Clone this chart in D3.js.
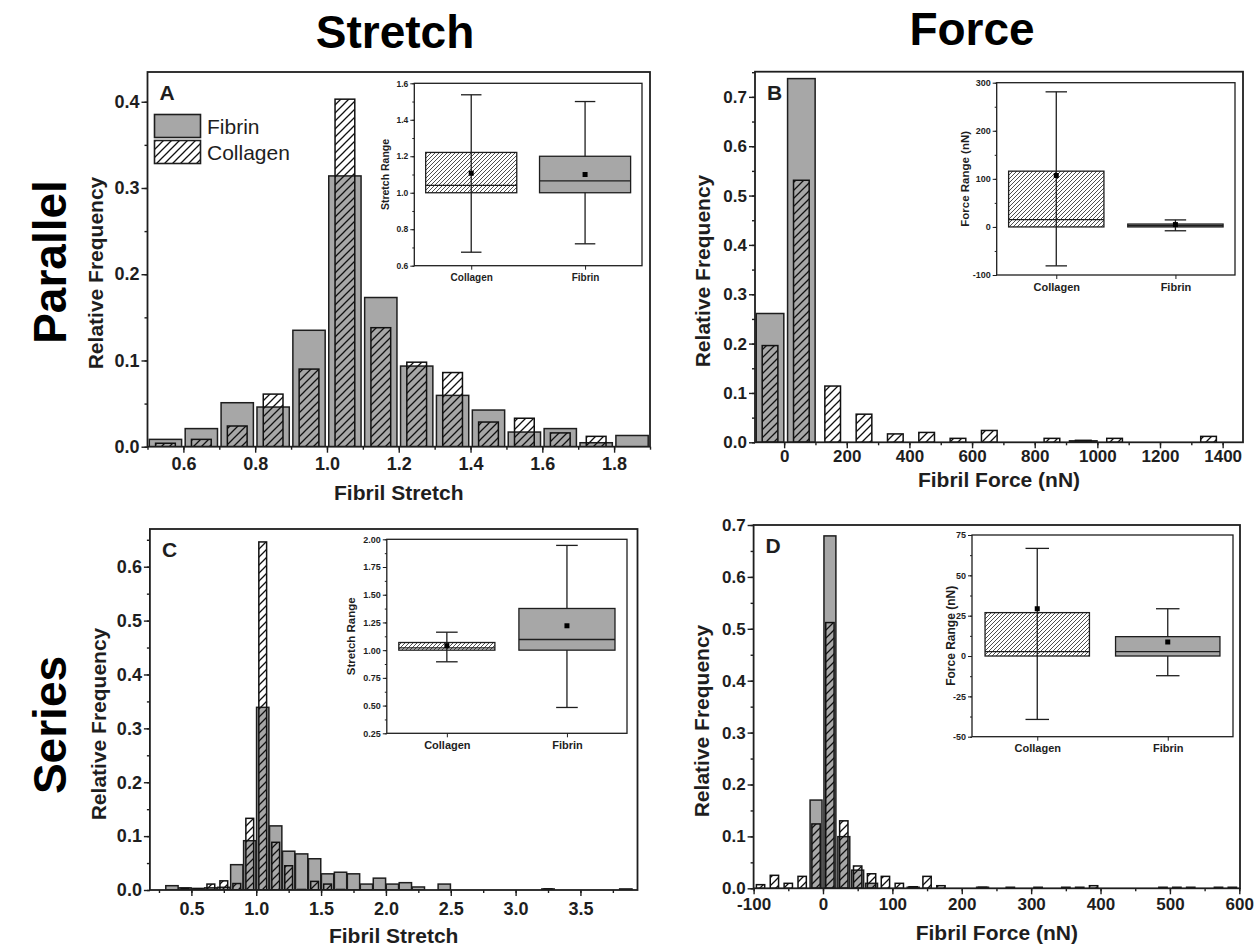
<!DOCTYPE html>
<html>
<head>
<meta charset="utf-8">
<script src="https://cdn.jsdelivr.net/npm/d3@7"></script>
<style>
  body { margin: 0; background: #fff; }
  svg { display: block; }
</style>
</head>
<body>
<script>
// ===== data =====

// A: parallel, fibril stretch (bins of 0.1)
var aBins     = [0.55, 0.65, 0.75, 0.85, 0.95, 1.05, 1.15, 1.25, 1.35, 1.45, 1.55, 1.65, 1.75, 1.85];
var aFibrin   = [0.0085, 0.021, 0.051, 0.046, 0.135, 0.314, 0.173, 0.0935, 0.0595, 0.0425, 0.017, 0.021, 0.0046, 0.013];
var aCollagen = [0.004, 0.0085, 0.024, 0.061, 0.090, 0.403, 0.138, 0.098, 0.086, 0.0286, 0.033, 0.016, 0.012, 0];
var aXTicks   = [0.6, 0.8, 1.0, 1.2, 1.4, 1.6, 1.8];
var aYTicks   = [0.0, 0.1, 0.2, 0.3, 0.4];

// B: parallel, fibril force (bins of 100 nN)
var bBins     = [-45, 55, 155, 255, 355, 455, 555, 655, 855, 955, 1055, 1355];
var bFibrin   = [0.261, 0.737, 0, 0, 0, 0, 0, 0, 0, 0.003, 0, 0];
var bCollagen = [0.196, 0.531, 0.114, 0.057, 0.017, 0.020, 0.008, 0.024, 0.008, 0.004, 0.008, 0.012];
var bXTicks   = [0, 200, 400, 600, 800, 1000, 1200, 1400];
var bYTicks   = [0.0, 0.1, 0.2, 0.3, 0.4, 0.5, 0.6, 0.7];

// C: series, fibril stretch (bins of 0.1)
var cBins     = [0.35, 0.45, 0.55, 0.65, 0.75, 0.85, 0.95, 1.05, 1.15, 1.25, 1.35, 1.45, 1.55, 1.65, 1.75, 1.85, 1.95, 2.05, 2.15, 2.25, 2.45, 3.25, 3.85];
var cFibrin   = [0.008, 0.004, 0.003, 0.004, 0.005, 0.047, 0.0915, 0.339, 0.119, 0.072, 0.067, 0.058, 0.030, 0.033, 0.030, 0.011, 0.022, 0.011, 0.0136, 0.0056, 0.011, 0.002, 0.002];
var cCollagen = [0, 0.003, 0.002, 0.011, 0.017, 0.012, 0.133, 0.646, 0.0885, 0.045, 0.001, 0.016, 0.011, 0.001, 0, 0, 0, 0, 0, 0, 0, 0.002, 0];
var cXTicks   = [0.5, 1.0, 1.5, 2.0, 2.5, 3.0, 3.5];
var cYTicks   = [0.0, 0.1, 0.2, 0.3, 0.4, 0.5, 0.6];

// D: series, fibril force (bins of 20 nN)
var dBins     = [-90, -70, -50, -30, -10, 10, 30, 50, 70, 90, 110, 130, 150, 170, 230, 270, 310, 350, 370, 390, 490, 510, 530, 570, 590];
var dFibrin   = [0, 0, 0, 0, 0.170, 0.679, 0.0995, 0.035, 0.0096, 0, 0, 0.002, 0, 0, 0.002, 0, 0, 0, 0, 0, 0, 0, 0, 0, 0];
var dCollagen = [0.007, 0.025, 0.0096, 0.023, 0.124, 0.512, 0.130, 0.043, 0.028, 0.023, 0.0096, 0.003, 0.023, 0.005, 0.002, 0.002, 0.002, 0.002, 0.002, 0.005, 0.002, 0.002, 0.002, 0.002, 0.002];
var dXTicks   = [-100, 0, 100, 200, 300, 400, 500, 600];
var dYTicks   = [0.0, 0.1, 0.2, 0.3, 0.4, 0.5, 0.6, 0.7];

// inset box charts: [whisker low, Q1, median, Q3, whisker high, mean]
var boxGroups     = ["Collagen", "Fibrin"];
var aBoxCollagen  = [0.674, 1.0, 1.04, 1.221, 1.537, 1.107];
var aBoxFibrin    = [0.72, 1.0, 1.065, 1.2, 1.5, 1.10];
var aBoxTicks     = [0.6, 0.8, 1.0, 1.2, 1.4, 1.6];
var bBoxCollagen  = [-81, 0, 15, 116, 281, 107];
var bBoxFibrin    = [-8, 0, 2.5, 6, 14.6, 4.9];
var bBoxTicks     = [-100, 0, 100, 200, 300];
var cBoxCollagen  = [0.895, 1.0, 1.02, 1.069, 1.162, 1.04];
var cBoxFibrin    = [0.483, 1.0, 1.096, 1.376, 1.945, 1.22];
var cBoxTicks     = [0.25, 0.50, 0.75, 1.00, 1.25, 1.50, 1.75, 2.00];
var dBoxCollagen  = [-39.3, 0, 2.7, 26.9, 66.7, 29.3];
var dBoxFibrin    = [-12.2, 0, 2.7, 12, 29.3, 8.7];
var dBoxTicks     = [-50, -25, 0, 25, 50, 75];

// ===== drawing =====
var font = "Arial, 'Liberation Sans', Helvetica, sans-serif",
    ink = "#1e1e1e",
    fibrinFill = "#a7a7a7";

// plain hyphen for negatives, like the original
function fmt(spec) {
    var f = d3.format(spec);
    return function(v) { return f(v).replace("\u2212", "-"); };
}

var svg = d3.select("body")
    .append("svg")
    .attr("width", 1257)
    .attr("height", 946);

svg.append("rect").attr("width", 1257).attr("height", 946).attr("fill", "#fff");

var defs = svg.append("defs");

defs.append("pattern")
    .attr("id", "hatch")
    .attr("patternUnits", "userSpaceOnUse")
    .attr("width", 8)
    .attr("height", 8)
  .append("path")
    .attr("d", "M-2,2 l4,-4 M0,8 l8,-8 M6,10 l4,-4")
    .attr("stroke", "#111")
    .attr("stroke-width", 1.3);

defs.append("pattern")
    .attr("id", "hatchFine")
    .attr("patternUnits", "userSpaceOnUse")
    .attr("width", 4)
    .attr("height", 4)
  .append("path")
    .attr("d", "M-1,1 l2,-2 M0,4 l4,-4 M3,5 l2,-2")
    .attr("stroke", "#222")
    .attr("stroke-width", 0.8);

function styleAxis(g, size, weight) {
    g.select(".domain").remove();
    g.selectAll("line").attr("stroke", ink).attr("stroke-width", 1.4);
    g.selectAll("text")
        .attr("font-family", font)
        .attr("font-size", size)
        .attr("font-weight", weight)
        .attr("fill", ink);
}

function minorTicks(ticks, domain) {
    var step = (ticks[1] - ticks[0]) / 2,
        out = [];
    for (var v = ticks[0] - step; v <= domain[1] + 1e-9; v += step) {
        if (v >= domain[0] - 1e-9) out.push(v);
    }
    return out;
}

function histPanel(p) {
    var x = d3.scaleLinear().domain(p.xDomain).range([p.x0, p.x1]),
        y = d3.scaleLinear().domain(p.yDomain).range([p.y1, p.y0]);

    defs.append("clipPath").attr("id", "clip" + p.id)
      .append("rect")
        .attr("x", p.x0).attr("y", p.y0)
        .attr("width", p.x1 - p.x0).attr("height", p.y1 - p.y0);

    var g = svg.append("g");
    var plot = g.append("g").attr("clip-path", "url(#clip" + p.id + ")");

    var rows = p.bins.map(function(c, i) {
        return {c: c, f: p.fibrin[i], k: p.collagen[i]};
    });

    // Fibrin bars (behind)
    plot.selectAll("rect.fib")
        .data(rows.filter(function(d) { return d.f > 0; }))
        .enter().append("rect")
        .attr("class", "fib")
        .attr("x", function(d) { return x(d.c - p.binW * p.fw / 2); })
        .attr("width", function(d) { return x(d.c + p.binW * p.fw / 2) - x(d.c - p.binW * p.fw / 2); })
        .attr("y", function(d) { return y(d.f); })
        .attr("height", function(d) { return y(0) - y(d.f); })
        .attr("fill", fibrinFill)
        .attr("stroke", ink)
        .attr("stroke-width", 1.5);

    // Collagen bars (hatched, on top)
    plot.selectAll("rect.col")
        .data(rows.filter(function(d) { return d.k > 0; }))
        .enter().append("rect")
        .attr("class", "col")
        .attr("x", function(d) { return x(d.c - p.binW * p.cw / 2); })
        .attr("width", function(d) { return x(d.c + p.binW * p.cw / 2) - x(d.c - p.binW * p.cw / 2); })
        .attr("y", function(d) { return y(d.k); })
        .attr("height", function(d) { return y(0) - y(d.k); })
        .attr("fill", "url(#hatch)")
        .attr("stroke", "#111")
        .attr("stroke-width", 1.5);

    // axes
    var ya = g.append("g").attr("transform", "translate(" + p.x0 + ",0)")
        .call(d3.axisLeft(y).tickValues(p.yTicks).tickSize(6).tickSizeOuter(0)
            .tickPadding(2).tickFormat(fmt(".1f")));
    styleAxis(ya, p.tickSize, "bold");
    var ym = g.append("g").attr("transform", "translate(" + p.x0 + ",0)")
        .call(d3.axisLeft(y).tickValues(minorTicks(p.yTicks, p.yDomain)).tickSize(3)
            .tickSizeOuter(0).tickFormat(""));
    styleAxis(ym, 1, "normal");

    var xa = g.append("g").attr("transform", "translate(0," + p.y1 + ")")
        .call(d3.axisBottom(x).tickValues(p.xTicks).tickSize(6).tickSizeOuter(0)
            .tickPadding(p.xPad).tickFormat(p.xFormat));
    styleAxis(xa, p.tickSize, "bold");
    var xm = g.append("g").attr("transform", "translate(0," + p.y1 + ")")
        .call(d3.axisBottom(x).tickValues(minorTicks(p.xTicks, p.xDomain)).tickSize(3)
            .tickSizeOuter(0).tickFormat(""));
    styleAxis(xm, 1, "normal");

    // frame
    g.append("rect")
        .attr("x", p.x0).attr("y", p.y0)
        .attr("width", p.x1 - p.x0).attr("height", p.y1 - p.y0)
        .attr("fill", "none")
        .attr("stroke", ink)
        .attr("stroke-width", 1.8);

    // titles
    g.append("text")
        .text("Relative Frequency")
        .attr("transform", "translate(" + p.yTitleX + "," + p.yTitleY + ") rotate(-90)")
        .attr("text-anchor", "middle")
        .attr("dy", "0.35em")
        .attr("font-family", font).attr("font-size", 21).attr("font-weight", "bold").attr("fill", ink);

    g.append("text")
        .text(p.xTitle)
        .attr("x", (p.x0 + p.x1) / 2)
        .attr("y", p.xTitleY)
        .attr("text-anchor", "middle")
        .attr("font-family", font).attr("font-size", 21).attr("font-weight", "bold").attr("fill", ink);

    g.append("text")
        .text(p.id)
        .attr("x", p.x0 + 12)
        .attr("y", p.y0 + 28)
        .attr("font-family", font).attr("font-size", 21).attr("font-weight", "bold").attr("fill", ink);
}

function boxInset(p) {
    var x = d3.scalePoint().domain(boxGroups).range([p.x0, p.x1]).padding(0.5),
        y = d3.scaleLinear().domain([p.ticks[0], p.ticks[p.ticks.length - 1]]).range([p.y1, p.y0]);
    var half = x.step() * 0.4,
        cap = x.step() * 0.09;

    var g = svg.append("g");
    g.append("rect")
        .attr("x", p.x0).attr("y", p.y0)
        .attr("width", p.x1 - p.x0).attr("height", p.y1 - p.y0)
        .attr("fill", "#fff");

    var stats = [
        {name: "Collagen", s: p.collagen, fill: "url(#hatchFine)"},
        {name: "Fibrin", s: p.fibrin, fill: fibrinFill}
    ];

    stats.forEach(function(d) {
        var cx = x(d.name);
        // whisker
        g.append("line")
            .attr("x1", cx).attr("x2", cx)
            .attr("y1", y(d.s[0])).attr("y2", y(d.s[4]))
            .attr("stroke", ink).attr("stroke-width", 1.3);
        [d.s[0], d.s[4]].forEach(function(v) {
            g.append("line")
                .attr("x1", cx - cap).attr("x2", cx + cap)
                .attr("y1", y(v)).attr("y2", y(v))
                .attr("stroke", ink).attr("stroke-width", 1.3);
        });
        // box
        g.append("rect")
            .attr("x", cx - half)
            .attr("width", half * 2)
            .attr("y", y(d.s[3]))
            .attr("height", y(d.s[1]) - y(d.s[3]))
            .attr("fill", d.fill)
            .attr("stroke", ink)
            .attr("stroke-width", 1.3);
        // median
        g.append("line")
            .attr("x1", cx - half).attr("x2", cx + half)
            .attr("y1", y(d.s[2])).attr("y2", y(d.s[2]))
            .attr("stroke", ink).attr("stroke-width", 1.3);
        // mean
        g.append("rect")
            .attr("x", cx - 2.5).attr("y", y(d.s[5]) - 2.5)
            .attr("width", 5).attr("height", 5)
            .attr("fill", "#000");
    });

    var ya = g.append("g").attr("transform", "translate(" + p.x0 + ",0)")
        .call(d3.axisLeft(y).tickValues(p.ticks).tickSize(4).tickSizeOuter(0)
            .tickPadding(2).tickFormat(p.format));
    styleAxis(ya, p.tickSize, "bold");
    ya.selectAll("line").attr("stroke-width", 1);
    var ym = g.append("g").attr("transform", "translate(" + p.x0 + ",0)")
        .call(d3.axisLeft(y).tickValues(minorTicks(p.ticks, y.domain())).tickSize(2)
            .tickSizeOuter(0).tickFormat(""));
    styleAxis(ym, 1, "normal");
    ym.selectAll("line").attr("stroke-width", 1);

    var xa = g.append("g").attr("transform", "translate(0," + p.y1 + ")")
        .call(d3.axisBottom(x).tickSize(4).tickSizeOuter(0).tickPadding(4));
    styleAxis(xa, p.catSize, "bold");
    xa.selectAll("line").attr("stroke-width", 1);

    g.append("rect")
        .attr("x", p.x0).attr("y", p.y0)
        .attr("width", p.x1 - p.x0).attr("height", p.y1 - p.y0)
        .attr("fill", "none")
        .attr("stroke", ink)
        .attr("stroke-width", 1.3);

    g.append("text")
        .text(p.title)
        .attr("transform", "translate(" + p.titleX + "," + ((p.y0 + p.y1) / 2) + ") rotate(-90)")
        .attr("text-anchor", "middle")
        .attr("dy", "0.35em")
        .attr("font-family", font).attr("font-size", p.titleSize).attr("font-weight", "bold").attr("fill", ink);
}

// ---- panels ----
histPanel({
    id: "A", bins: aBins, fibrin: aFibrin, collagen: aCollagen,
    xTicks: aXTicks, yTicks: aYTicks, xFormat: fmt(".1f"),
    xDomain: [0.5, 1.9], yDomain: [0, 0.4345],
    x0: 147.5, x1: 650, y0: 72, y1: 446.7,
    binW: 0.1, fw: 0.9, cw: 0.55, tickSize: 18, xPad: 5,
    xTitle: "Fibril Stretch", xTitleY: 500, yTitleX: 96, yTitleY: 273
});

histPanel({
    id: "B", bins: bBins, fibrin: bFibrin, collagen: bCollagen,
    xTicks: bXTicks, yTicks: bYTicks, xFormat: fmt("d"),
    xDomain: [-93, 1465], yDomain: [0, 0.751],
    x0: 755, x1: 1243, y0: 71.7, y1: 442.3,
    binW: 100, fw: 0.88, cw: 0.5, tickSize: 17, xPad: 2,
    xTitle: "Fibril Force (nN)", xTitleY: 487, yTitleX: 703, yTitleY: 271
});

histPanel({
    id: "C", bins: cBins, fibrin: cFibrin, collagen: cCollagen,
    xTicks: cXTicks, yTicks: cYTicks, xFormat: fmt(".1f"),
    xDomain: [0.18, 3.94], yDomain: [0, 0.67],
    x0: 149.9, x1: 637.5, y0: 529, y1: 890,
    binW: 0.1, fw: 0.95, cw: 0.6, tickSize: 18, xPad: 6,
    xTitle: "Fibril Stretch", xTitleY: 943, yTitleX: 99, yTitleY: 724
});

histPanel({
    id: "D", bins: dBins, fibrin: dFibrin, collagen: dCollagen,
    xTicks: dXTicks, yTicks: dYTicks, xFormat: fmt("d"),
    xDomain: [-100, 601], yDomain: [0, 0.7],
    x0: 753.6, x1: 1240, y0: 525, y1: 888.3,
    binW: 20, fw: 0.86, cw: 0.6, tickSize: 17, xPad: 4,
    xTitle: "Fibril Force (nN)", xTitleY: 940, yTitleX: 702, yTitleY: 721
});

// ---- insets ----
boxInset({
    collagen: aBoxCollagen, fibrin: aBoxFibrin, ticks: aBoxTicks, format: fmt(".1f"),
    x0: 414.3, x1: 642, y0: 83.3, y1: 265.7,
    tickSize: 8.5, catSize: 10, title: "Stretch Range", titleX: 385, titleSize: 10.5
});

boxInset({
    collagen: bBoxCollagen, fibrin: bBoxFibrin, ticks: bBoxTicks, format: fmt("d"),
    x0: 996.7, x1: 1235, y0: 82.7, y1: 275,
    tickSize: 9, catSize: 11, title: "Force Range (nN)", titleX: 965, titleSize: 11.5
});

boxInset({
    collagen: cBoxCollagen, fibrin: cBoxFibrin, ticks: cBoxTicks, format: fmt(".2f"),
    x0: 386.8, x1: 627, y0: 539.3, y1: 733.3,
    tickSize: 9, catSize: 11, title: "Stretch Range", titleX: 350.6, titleSize: 11.5
});

boxInset({
    collagen: dBoxCollagen, fibrin: dBoxFibrin, ticks: dBoxTicks, format: fmt("d"),
    x0: 972, x1: 1233, y0: 535, y1: 736.7,
    tickSize: 9, catSize: 11, title: "Force Range (nN)", titleX: 950.5, titleSize: 12
});

// ---- legend (panel A) ----
var legend = svg.append("g");
legend.append("rect")
    .attr("x", 154.5).attr("y", 114.5).attr("width", 46).attr("height", 23)
    .attr("fill", fibrinFill).attr("stroke", ink).attr("stroke-width", 1.6);
legend.append("rect")
    .attr("x", 154.5).attr("y", 140.5).attr("width", 46).attr("height", 23)
    .attr("fill", "url(#hatch)").attr("stroke", ink).attr("stroke-width", 1.6);
legend.append("text").text("Fibrin")
    .attr("x", 207).attr("y", 134)
    .attr("font-family", font).attr("font-size", 21).attr("fill", ink);
legend.append("text").text("Collagen")
    .attr("x", 207).attr("y", 160)
    .attr("font-family", font).attr("font-size", 21).attr("fill", ink);

// ---- column and row headings ----
function heading(t, x, y, rot) {
    svg.append("text")
        .text(t)
        .attr("transform", "translate(" + x + "," + y + ")" + (rot ? " rotate(-90)" : ""))
        .attr("text-anchor", "middle")
        .attr("font-family", font)
        .attr("font-size", 46)
        .attr("font-weight", "bold")
        .attr("fill", "#000");
}
heading("Stretch", 395, 48, false);
heading("Force", 972, 45, false);
heading("Parallel", 66, 262, true);
heading("Series", 66, 725, true);
</script>
</body>
</html>
